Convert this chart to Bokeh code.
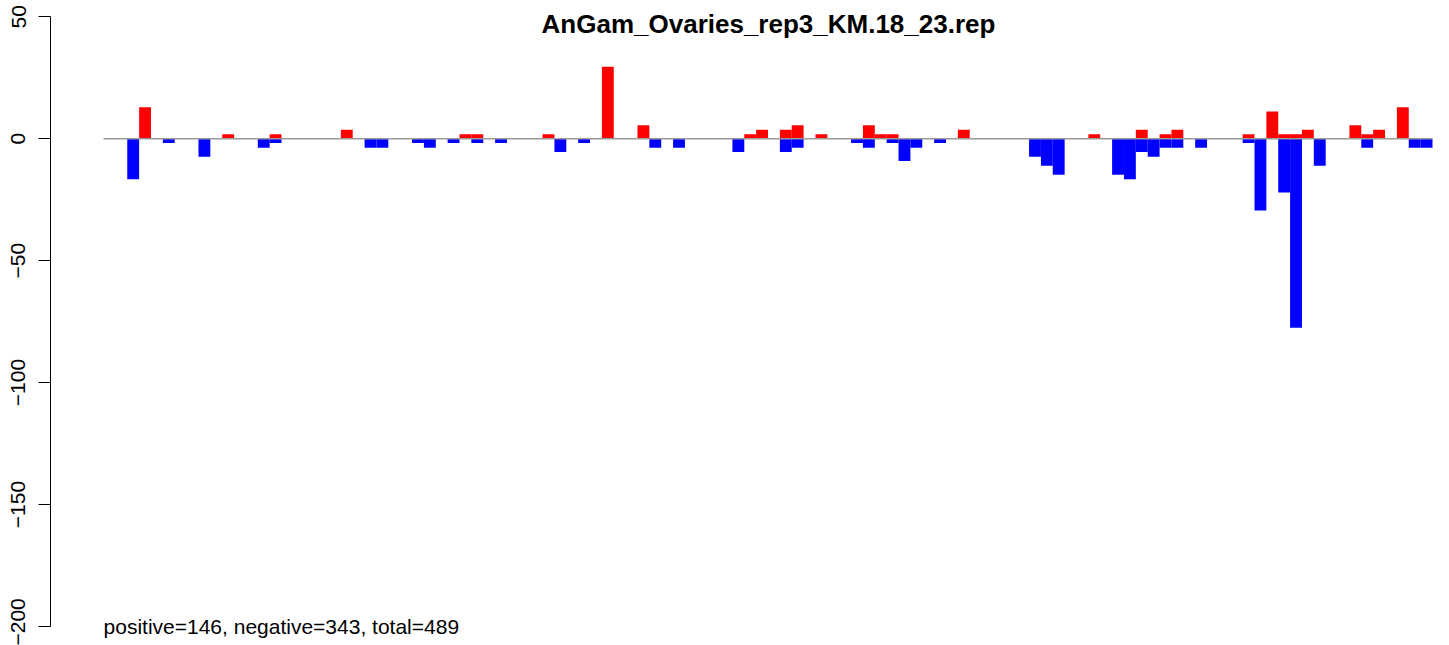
from bokeh.plotting import figure
from bokeh.models import Range1d, FixedTicker, Label
from bokeh.embed import file_html
from bokeh.resources import INLINE

# ---- data ----
title_text = "AnGam_Ovaries_rep3_KM.18_23.rep"
summary_text = "positive=146, negative=343, total=489"
n_bins = 112

pos_bins = [3, 10, 14, 20, 30, 31, 37, 42, 45, 54, 55, 57, 58, 60, 64, 65, 66, 72,
            83, 87, 89, 90, 96, 98, 99, 100, 101, 105, 106, 107, 109]
pos_vals = [12.9, 1.8, 1.8, 3.7, 1.8, 1.8, 1.8, 29.5, 5.5, 1.8, 3.7, 3.7, 5.5, 1.8,
            5.5, 1.8, 1.8, 3.7, 1.8, 3.7, 1.8, 3.7, 1.8, 11.1, 1.8, 1.8, 3.7, 5.5,
            1.8, 3.7, 12.9]

neg_bins = [2, 5, 8, 13, 14, 22, 23, 26, 27, 29, 31, 33, 38, 40, 46, 48, 53, 57, 58,
            63, 64, 66, 67, 68, 70, 78, 79, 80, 85, 86, 87, 88, 89, 90, 92, 96, 97,
            99, 100, 102, 106, 110, 111]
neg_vals = [-16.6, -1.8, -7.4, -3.7, -1.8, -3.7, -3.7, -1.8, -3.7, -1.8, -1.8, -1.8,
            -5.5, -1.8, -3.7, -3.7, -5.5, -5.5, -3.7, -1.8, -3.7, -1.8, -9.2, -3.7,
            -1.8, -7.4, -11.1, -14.8, -14.8, -16.6, -5.5, -7.4, -3.7, -3.7, -3.7,
            -1.8, -29.5, -22.1, -77.5, -11.1, -3.7, -3.7, -3.7]

y_ticks = [-200, -150, -100, -50, 0, 50]

# ---- figure ----
FONT = "Liberation Sans"
p = figure(width=1441, height=645, output_backend="svg", toolbar_location=None,
           x_axis_location=None,
           x_range=Range1d(-4.97, 112.26), y_range=Range1d(-207.79, 56.64),
           min_border_left=50, min_border_right=0, min_border_top=0,
           min_border_bottom=0)
p.outline_line_color = None
p.grid.visible = False
p.background_fill_color = "white"
p.border_fill_color = "white"

yax = p.yaxis[0]
yax.ticker = FixedTicker(ticks=y_ticks)
yax.bounds = (min(y_ticks), max(y_ticks))
yax.major_tick_in = 0
yax.major_tick_out = 12
yax.minor_tick_line_color = None
yax.axis_line_color = "black"
yax.major_tick_line_color = "black"
yax.major_label_orientation = "vertical"
yax.major_label_text_font = FONT
yax.major_label_text_font_size = "21px"
yax.major_label_text_color = "black"
yax.major_label_standoff = 13

p.vbar(x=pos_bins, width=1.0, top=pos_vals, bottom=0,
       fill_color="#FF0000", line_color=None)
p.vbar(x=neg_bins, width=1.0, top=0, bottom=neg_vals,
       fill_color="#0000FF", line_color=None)

p.line(x=[-0.5, n_bins - 0.5], y=[0, 0], line_color="#9a9a9a", line_width=1.5)

p.add_layout(Label(x=55.54, y=47.21, text=title_text, text_font=FONT,
                   text_font_size="26px", text_font_style="bold",
                   text_align="center", text_baseline="alphabetic",
                   text_color="black"))
p.add_layout(Label(x=-0.5, y=-200, text=summary_text, text_font=FONT,
                   text_font_size="21px", text_align="left",
                   text_baseline="middle", text_color="black"))

open("out.html", "w").write(file_html(p, INLINE))
